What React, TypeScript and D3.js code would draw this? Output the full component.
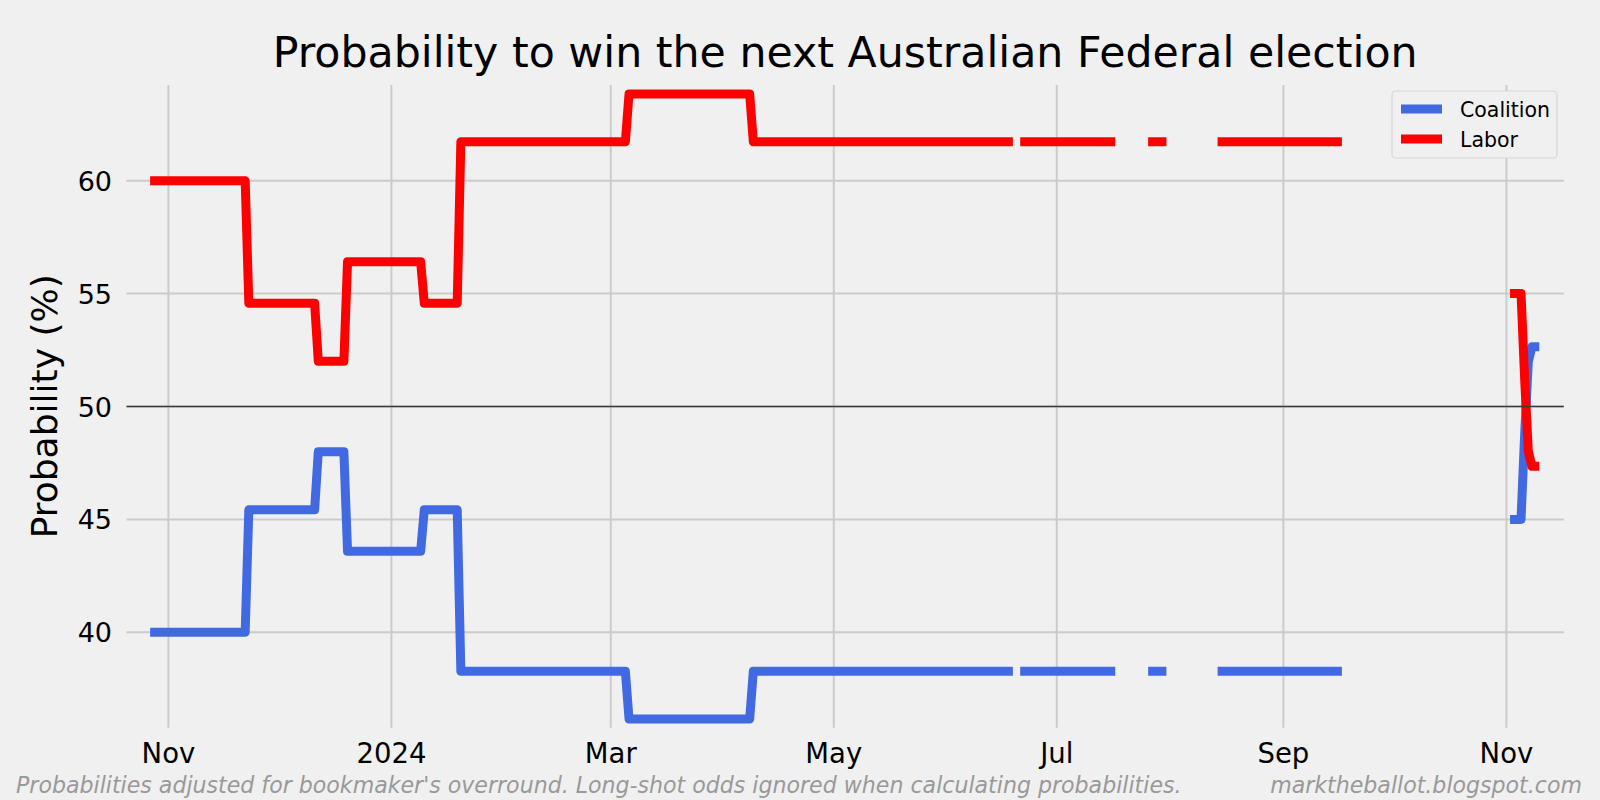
import React from 'react';
import * as d3 from 'd3';

// Observation dates (change points of the daily series); null = missing data (gap)
const dates = [
  '2023-10-27', '2023-11-22', '2023-11-23', '2023-12-11', '2023-12-12',
  '2023-12-19', '2023-12-20', '2024-01-09', '2024-01-10', '2024-01-19',
  '2024-01-20', '2024-03-05', '2024-03-06', '2024-04-08', '2024-04-09',
  '2024-06-19', '2024-06-20', '2024-06-21', '2024-07-17', '2024-07-18',
  '2024-07-26', '2024-07-31', '2024-08-01', '2024-08-14', '2024-09-17',
  '2024-09-18', '2024-11-02', '2024-11-05', '2024-11-06', '2024-11-07',
  '2024-11-08', '2024-11-10',
];

const labor: (number | null)[] = [
  60.0, 60.0, 54.57, 54.57, 52.0,
  52.0, 56.41, 56.41, 54.57, 54.57,
  61.73, 61.73, 63.84, 63.84, 61.73,
  61.73, null, 61.73, 61.73, null,
  61.73, 61.73, null, 61.73, 61.73,
  null, 55.0, 55.0, 51.2, 48.0,
  47.35, 47.35,
];

const coalition: (number | null)[] = [
  40.0, 40.0, 45.43, 45.43, 48.0,
  48.0, 43.59, 43.59, 45.43, 45.43,
  38.27, 38.27, 36.16, 36.16, 38.27,
  38.27, null, 38.27, 38.27, null,
  38.27, 38.27, null, 38.27, 38.27,
  null, 45.0, 45.0, 48.8, 52.0,
  52.65, 52.65,
];

const seriesNames = ['Coalition', 'Labor'];
const seriesColors = ['#4169e1', '#ff0000'];

const yTicks = [40, 45, 50, 55, 60];
const xTickDates = ['2023-11-01', '2024-01-01', '2024-03-01', '2024-05-01', '2024-07-01', '2024-09-01', '2024-11-01'];
const xTickLabels = ['Nov', '2024', 'Mar', 'May', 'Jul', 'Sep', 'Nov'];

const titleText = 'Probability to win the next Australian Federal election';
const yLabelText = 'Probability (%)';
const footLeft = "Probabilities adjusted for bookmaker's overround. Long-shot odds ignored when calculating probabilities.";
const footRight = 'marktheballot.blogspot.com';

const W = 1600;
const H = 800;
const AX = { left: 126.5, right: 1563.8, top: 85, bottom: 727.7 };
const FONT = 'DejaVu Sans, sans-serif';

export default function App() {
  const parse = d3.utcParse('%Y-%m-%d');
  const x = d3
    .scaleUtc()
    .domain([parse('2023-11-01') as Date, parse('2024-11-01') as Date])
    .range([168.4, 1506.4]);
  const y = d3.scaleLinear().domain([40, 60]).range([632.3, 180.7]);

  type P = { d: Date; v: number | null };
  const mk = (vals: (number | null)[]): P[] => dates.map((s, i) => ({ d: parse(s) as Date, v: vals[i] }));
  const line = d3
    .line<P>()
    .defined((p) => p.v != null)
    .x((p) => x(p.d))
    .y((p) => y(p.v as number));

  const series = [mk(coalition), mk(labor)];

  return (
    <svg
      width={W}
      height={H}
      style={{ position: 'absolute', left: 0, top: 0, background: '#f0f0f0' }}
      fontFamily={FONT}
    >
      <rect x={0} y={0} width={W} height={H} fill="#f0f0f0" />
      <defs>
        <clipPath id="ax">
          <rect x={AX.left} y={AX.top} width={AX.right - AX.left} height={AX.bottom - AX.top} />
        </clipPath>
      </defs>
      {/* grid */}
      {xTickDates.map((s, i) => (
        <line
          key={'gx' + i}
          x1={x(parse(s) as Date)}
          x2={x(parse(s) as Date)}
          y1={AX.top}
          y2={AX.bottom}
          stroke="#cbcbcb"
          strokeWidth={2}
        />
      ))}
      {yTicks.map((t) => (
        <line key={'gy' + t} x1={AX.left} x2={AX.right} y1={y(t)} y2={y(t)} stroke="#cbcbcb" strokeWidth={2} />
      ))}
      {/* series */}
      <g clipPath="url(#ax)">
        {series.map((s, i) => (
          <path
            key={'s' + i}
            d={line(s) || ''}
            fill="none"
            stroke={seriesColors[i]}
            strokeWidth={9}
            strokeLinejoin="round"
            strokeLinecap="butt"
          />
        ))}
      </g>
      {/* 50% line */}
      <line x1={AX.left} x2={AX.right} y1={y(50)} y2={y(50)} stroke="#3a3a3a" strokeWidth={1.6} />
      {/* tick labels */}
      {yTicks.map((t) => (
        <text key={'ty' + t} x={112} y={y(t) + 10} textAnchor="end" fontSize={27} fill="#000">
          {t}
        </text>
      ))}
      {xTickDates.map((s, i) => (
        <text key={'tx' + i} x={x(parse(s) as Date)} y={763} textAnchor="middle" fontSize={27.5} fill="#000">
          {xTickLabels[i]}
        </text>
      ))}
      {/* title */}
      <text x={(AX.left + AX.right) / 2} y={67} textAnchor="middle" fontSize={42.7} fill="#000">
        {titleText}
      </text>
      {/* y label */}
      <text
        transform={`translate(57, ${(AX.top + AX.bottom) / 2}) rotate(-90)`}
        textAnchor="middle"
        fontSize={36}
        fill="#000"
      >
        {yLabelText}
      </text>
      {/* legend */}
      <rect x={1392} y={91} width={165} height={67} rx={4} fill="#f0f0f0" stroke="#d6d6d6" strokeWidth={1.2} />
      {seriesNames.map((n, i) => (
        <g key={'lg' + i}>
          <line x1={1401} x2={1442} y1={109 + i * 30} y2={109 + i * 30} stroke={seriesColors[i]} strokeWidth={9} />
          <text x={1460} y={116.5 + i * 30} fontSize={20.5} fill="#000">
            {n}
          </text>
        </g>
      ))}
      {/* footer */}
      <text x={16} y={793} fontSize={22.1} fontStyle="italic" fill="#999999">
        {footLeft}
      </text>
      <text x={1582} y={793} textAnchor="end" fontSize={22.1} fontStyle="italic" fill="#999999">
        {footRight}
      </text>
    </svg>
  );
}
